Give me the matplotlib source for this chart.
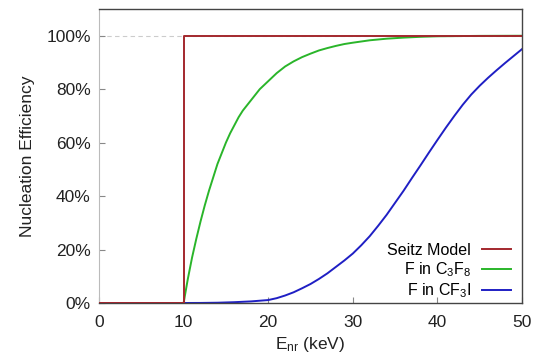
import matplotlib
matplotlib.use("Agg")
import matplotlib.pyplot as plt

plt.rcParams['font.family'] = ['Liberation Sans', 'DejaVu Sans']
plt.rcParams['mathtext.fontset'] = 'custom'
plt.rcParams['mathtext.rm'] = 'Liberation Sans'
plt.rcParams['mathtext.it'] = 'Liberation Sans:italic'

# Seitz model: step at threshold
seitz_E = [0, 10, 10, 50]
seitz_eff = [0, 0, 100, 100]

# F in C3F8
c3f8_E = [0, 10, 10.5, 11, 11.5, 12, 12.5, 13, 13.5, 14, 14.5, 15, 15.5, 16, 16.5, 17, 17.5, 18,
          19, 20, 21, 22, 23, 24, 25, 26, 27, 28, 29, 30, 32, 34, 36, 38, 40, 45, 50]
c3f8_eff = [0, 0, 9, 17, 24, 30.5, 36.5, 42, 47, 52, 56, 60, 63.5, 66.5, 69.5, 72, 74, 76,
            80, 83, 86, 88.5, 90.4, 92, 93.3, 94.5, 95.4, 96.2, 96.9, 97.4, 98.3, 98.9, 99.3, 99.6, 99.8, 99.95, 100]

# F in CF3I
cf3i_E = [0, 10, 12, 14, 16, 18, 19, 20, 21, 22, 23, 24, 25, 26, 27, 28, 29, 30, 31, 32, 33, 34,
          35, 36, 37, 38, 39, 40, 41, 42, 43, 44, 45, 46, 47, 48, 49, 50]
cf3i_eff = [0, 0, 0.02, 0.1, 0.3, 0.6, 0.85, 1.1, 1.8, 2.8, 4.0, 5.5, 7.1, 9, 11.1, 13.5, 15.9, 18.5,
            21.6, 25, 28.9, 33, 37.5, 42, 46.8, 51.5, 56.3, 61, 65.6, 70, 74.2, 78, 81.3, 84.3, 87.1, 89.8, 92.4, 95]

yticks = [0, 20, 40, 60, 80, 100]
xticks = [0, 10, 20, 30, 40, 50]

fig = plt.figure(figsize=(5.36, 3.61), dpi=100)
ax = fig.add_axes([0.1847, 0.1607, 0.7892, 0.8143])

ax.axhline(100, color='#cccccc', linestyle=(0, (4, 3)), linewidth=0.8, zorder=0)
ax.plot(seitz_E, seitz_eff, color='#a3282d', lw=1.4, label='Seitz Model', zorder=3)
ax.plot(c3f8_E, c3f8_eff, color='#2ab52a', lw=1.4, label=r'F in C$_\mathregular{3}$F$_\mathregular{8}$', zorder=2)
ax.plot(cf3i_E, cf3i_eff, color='#1f1fc4', lw=1.4, label=r'F in CF$_\mathregular{3}$I', zorder=2)

ax.set_xlim(0, 50)
ax.set_ylim(0, 110)
ax.set_xticks(xticks)
ax.set_yticks(yticks)
ax.set_yticklabels([f"{v}%" for v in yticks])
ax.tick_params(direction='in', length=4.5, width=0.8, color='#888888', labelsize=12.5, labelcolor='#222222')
ax.tick_params(axis='y', pad=6)
ax.tick_params(axis='x', pad=9)

for s in ['top', 'right', 'bottom']:
    ax.spines[s].set_color('#444444')
    ax.spines[s].set_linewidth(1.0)
ax.spines['left'].set_color('#bbbbbb')

ax.set_ylabel("Nucleation Efficiency", fontsize=12.5, color='#222222', labelpad=8)
ax.set_xlabel(r"E$_\mathregular{nr}$ (keV)", fontsize=12.5, color='#222222', labelpad=3)

ax.legend(loc='lower right', bbox_to_anchor=(0.974, 0.01), frameon=False, markerfirst=False,
          fontsize=11.5, handlelength=1.8, handletextpad=0.7, borderpad=0, borderaxespad=0,
          labelspacing=0.15)

fig.savefig("out.png", dpi=100)
